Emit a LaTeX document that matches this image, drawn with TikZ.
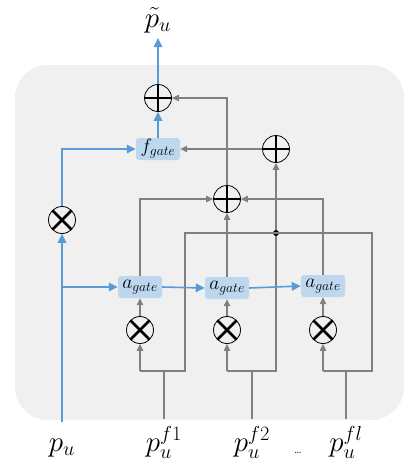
\RequirePackage{fix-cm}
\documentclass[tikz,border=0pt]{standalone}
\usetikzlibrary{arrows.meta}
\definecolor{bl}{RGB}{91,155,213}
\definecolor{bx}{RGB}{189,215,238}
\definecolor{gr}{RGB}{128,128,128}
\definecolor{bg}{RGB}{240,240,240}
\begin{document}
\begin{tikzpicture}[x=1pt,y=-1pt,
  gl/.style={draw=gr, line width=1.3pt},
  ga/.style={gl, -{Triangle[length=7pt,width=6.5pt]}},
  bline/.style={draw=bl, line width=1.6pt},
  ba/.style={bline, -{Triangle[length=9pt,width=8.5pt]}},
  gatebox/.style={fill=bx, rounded corners=3pt, minimum width=44pt, minimum height=22pt, inner sep=1pt, font=\fontsize{19.5}{21}\selectfont},
  opl/.style={circle, draw=black, line width=0.8pt, minimum size=27pt, inner sep=0pt,
    path picture={\draw[line width=2.8pt] (path picture bounding box.north)--(path picture bounding box.south) (path picture bounding box.west)--(path picture bounding box.east);}},
  otm/.style={circle, draw=black, line width=0.8pt, minimum size=27pt, inner sep=0pt,
    path picture={\draw[line width=2.8pt] (path picture bounding box.north east)--(path picture bounding box.south west) (path picture bounding box.north west)--(path picture bounding box.south east);}},
  lab/.style={font=\fontsize{29}{31}\selectfont, anchor=base, inner sep=0pt}]
\useasboundingbox (0,0) rectangle (404,466);
\fill[white] (0,0) rectangle (404,466);
\fill[bg, rounded corners=33pt] (15,65) rectangle (404,420);

% nodes
\node[lab] (out) at (158,27) {$\tilde{p}_u$};
\node[opl] (topplus) at (158,98) {};
\node[gatebox] (fgate) at (158,149) {$f_{gate}$};
\node[opl] (rplus) at (276,149) {};
\node[opl] (mplus) at (227,199) {};
\node[otm] (lot) at (62,220) {};
\node[gatebox] (a1) at (140,287) {$a_{gate}$};
\node[gatebox] (a2) at (227,288) {$a_{gate}$};
\node[gatebox] (a3) at (323,286) {$a_{gate}$};
\node[otm] (ot1) at (140,330) {};
\node[otm] (ot2) at (227,330) {};
\node[otm] (ot3) at (323,330) {};
\node[circle, fill=black, inner sep=0pt, minimum size=6pt] (dot) at (276,233) {};

\node[lab] (lpu) at (62,451) {$p_u$};
\node[lab] (lf1) at (164,451) {$p_u^{f1}$};
\node[lab] (lf2) at (252,451) {$p_u^{f2}$};
\node[lab] (lfl) at (346,451) {$p_u^{fl}$};
\node[font=\fontsize{12}{13}\selectfont, anchor=base, inner sep=0pt] (dots) at (298,453) {\ldots};

% coordinates
\coordinate (pub) at (62,422);
\coordinate (br) at (62,287);
\coordinate (outt) at (158,38);
\coordinate (f1b) at (164,419); \coordinate (f1j) at (164,371);
\coordinate (f1l) at (140,371); \coordinate (f1r) at (185,371); \coordinate (f1t) at (185,233);
\coordinate (f2b) at (252,419); \coordinate (f2j) at (252,371);
\coordinate (f2l) at (227,371); \coordinate (f2r) at (276,371);
\coordinate (f3b) at (346,419); \coordinate (f3j) at (346,371);
\coordinate (f3l) at (323,371); \coordinate (f3r) at (372,371); \coordinate (f3t) at (372,233);

% gray connectors
\draw[gl] (f1b) -- (f1j);
\draw[gl] (f1l) -- (f1r) -- (f1t) -- (f3t) -- (f3r) -- (f3l);
\draw[gl] (f3b) -- (f3j);
\draw[gl] (f2b) -- (f2j);
\draw[gl] (f2l) -- (f2r) -- (dot);
\draw[ga] (f1l) -- (ot1.south);
\draw[ga] (f2l) -- (ot2.south);
\draw[ga] (f3l) -- (ot3.south);
\draw[ga] (ot1.north) -- (a1.south);
\draw[ga] (ot2.north) -- (a2.south);
\draw[ga] (ot3.north) -- (a3.south);
\draw[ga] (a1.north) |- (mplus.west);
\draw[ga] (a2.north) -- (mplus.south);
\draw[ga] (a3.north) |- (mplus.east);
\draw[ga] (dot) -- (rplus.south);
\draw[ga] (rplus.west) -- (fgate.east);
\draw[ga] (mplus.north) |- (topplus.east);

% blue connectors
\draw[ba] (pub) -- (lot.south);
\draw[ba] (lot.north) |- (fgate.west);
\draw[ba] (br) -- (a1.west);
\draw[ba] (a1.east) -- (a2.west);
\draw[ba] (a2.east) -- (a3.west);
\draw[ba] (fgate.north) -- (topplus.south);
\draw[ba] (topplus.north) -- (outt);
\end{tikzpicture}
\end{document}
